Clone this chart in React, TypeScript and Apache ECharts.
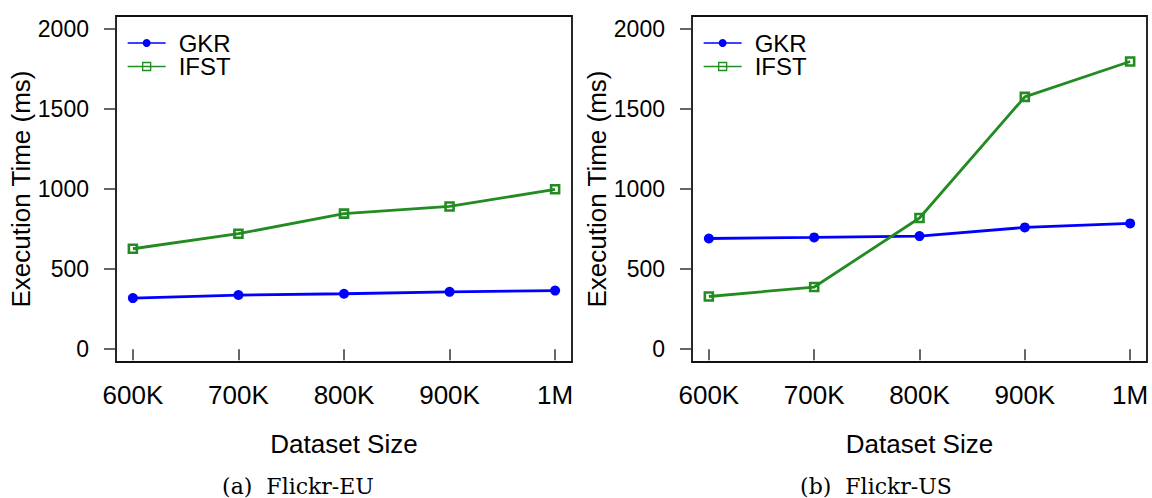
import React, { useEffect, useRef } from "react";
import * as echarts from "echarts";

const sizesK = [600, 700, 800, 900, 1000];
const xTickLabels = ["600K", "700K", "800K", "900K", "1M"];
const yTicks = [0, 500, 1000, 1500, 2000];
const seriesNames = ["GKR", "IFST"];

const euGKR = [319, 338, 346, 358, 366];
const euIFST = [627, 721, 846, 891, 998];
const usGKR = [691, 698, 706, 760, 785];
const usIFST = [329, 388, 819, 1575, 1796];

const captions = ["(a)  Flickr-EU", "(b)  Flickr-US"];

const SANS = '"Liberation Sans", Arial, Helvetica, sans-serif';
const SERIF = '"DejaVu Serif", serif';
const BLUE = "#0000ff";
const GREEN = "#228b22";

const grids = [
  { left: 116, top: 16, width: 456, height: 346 },
  { left: 692, top: 16, width: 455, height: 346 },
];

function pairs(vals: number[]) {
  return sizesK.map((s, i) => [s, vals[i]]);
}

export default function App() {
  const ref = useRef<HTMLDivElement>(null);
  useEffect(() => {
    if (!ref.current) return;
    const chart = echarts.init(ref.current, null, { renderer: "svg" });
    const xAxis = grids.map((_, gi) => ({
      gridIndex: gi,
      type: "value",
      min: 584,
      max: 1016,
      axisLine: { show: false },
      splitLine: { show: false },
      axisTick: {
        show: true,
        customValues: sizesK,
        length: 11,
        lineStyle: { color: "#333", width: 1.5 },
      },
      axisLabel: {
        customValues: sizesK,
        formatter: (v: number) => xTickLabels[sizesK.indexOf(v)] ?? "",
        fontSize: 26,
        fontFamily: SANS,
        color: "#000",
        margin: 20,
      },
      name: "Dataset Size",
      nameLocation: "middle",
      nameGap: 69,
      nameTextStyle: { fontSize: 26, fontFamily: SANS, color: "#000" },
    }));
    const yAxis = grids.map((_, gi) => ({
      gridIndex: gi,
      type: "value",
      min: -80,
      max: 2080,
      axisLine: { show: false },
      splitLine: { show: false },
      axisTick: {
        show: true,
        customValues: yTicks,
        length: 12,
        lineStyle: { color: "#333", width: 1.5 },
      },
      axisLabel: {
        customValues: yTicks,
        formatter: (v: number) => String(v),
        fontSize: 23,
        fontFamily: SANS,
        color: "#000",
        margin: 27,
      },
      name: "Execution Time (ms)",
      nameLocation: "middle",
      nameGap: 63,
      nameRotate: 90,
      nameTextStyle: { fontSize: 26, fontFamily: SANS, color: "#000" },
    }));
    const mkGKR = (gi: number, vals: number[]) => ({
      name: seriesNames[0],
      type: "line",
      xAxisIndex: gi,
      yAxisIndex: gi,
      data: pairs(vals),
      symbol: "circle",
      symbolSize: 10,
      lineStyle: { color: BLUE, width: 2.8 },
      itemStyle: { color: BLUE },
    });
    const mkIFST = (gi: number, vals: number[]) => ({
      name: seriesNames[1],
      type: "line",
      xAxisIndex: gi,
      yAxisIndex: gi,
      data: pairs(vals),
      symbol: "rect",
      symbolSize: 8,
      lineStyle: { color: GREEN, width: 2.8 },
      itemStyle: { color: "rgba(0,0,0,0)", borderColor: GREEN, borderWidth: 2.6 },
    });
    const legends = [122, 698].map((l) => ({
      left: l,
      top: 26,
      orient: "vertical",
      itemWidth: 38,
      itemHeight: 10,
      itemGap: -0.5,
      selectedMode: false,
      data: seriesNames,
      lineStyle: { width: 1.3 },
      itemStyle: { borderWidth: 1.3 },
      textStyle: {
        fontSize: 24,
        fontFamily: SANS,
        color: "#000",
        lineHeight: 23,
        padding: [0, 0, 0, 8],
      },
    }));
    chart.setOption({
      animation: false,
      backgroundColor: "#fff",
      grid: grids.map((g) => ({
        ...g,
        show: true,
        borderColor: "#111",
        borderWidth: 1.8,
        backgroundColor: "rgba(0,0,0,0)",
      })),
      xAxis,
      yAxis,
      legend: legends,
      series: [mkGKR(0, euGKR), mkIFST(0, euIFST), mkGKR(1, usGKR), mkIFST(1, usIFST)],
      graphic: [298, 876].map((cx, i) => ({
        type: "text",
        x: cx,
        y: 486,
        style: {
          text: captions[i],
          font: `22px ${SERIF}`,
          fill: "#000",
          align: "center",
          verticalAlign: "middle",
        },
      })),
    });
    return () => chart.dispose();
  }, []);
  return (
    <div
      ref={ref}
      style={{ position: "fixed", left: 0, top: 0, width: 1152, height: 498 }}
    />
  );
}
